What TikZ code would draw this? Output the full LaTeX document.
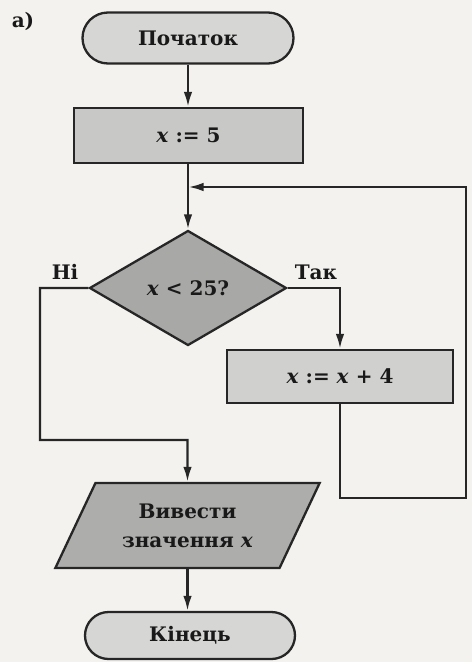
\documentclass[tikz,border=0pt]{standalone}
\usepackage{fontspec}
\setmainfont{DejaVu Serif}
\usetikzlibrary{arrows.meta,shapes.misc,shapes.geometric}
\definecolor{paper}{HTML}{F3F2EF}
\definecolor{termgray}{HTML}{D6D6D4}
\definecolor{boxgray}{HTML}{C8C8C7}
\definecolor{decgray}{HTML}{A8A8A7}
\definecolor{incgray}{HTML}{D0D0CF}
\definecolor{iogray}{HTML}{ADADAC}
\tikzset{
  every node/.style={font=\fontsize{20}{29}\selectfont\bfseries, text=black!90},
  outline/.style={draw=black!85, line width=2.3pt},
  term/.style={outline, rounded rectangle, fill=termgray, inner sep=0pt},
  procbox/.style={outline, rectangle, fill=boxgray, inner sep=0pt},
  decbox/.style={outline, diamond, fill=decgray, inner sep=0pt, minimum width=197pt, minimum height=115pt},
  iobox/.style={outline, trapezium, trapezium left angle=57, trapezium right angle=123,
     trapezium stretches=true, fill=iogray, inner sep=0pt, minimum width=265pt, minimum height=85pt, align=center},
  conn/.style={draw=black!85, line width=2.3pt, -{Latex[length=15pt,width=8.5pt]}},
  lbl/.style={font=\fontsize{20}{24}\selectfont\bfseries}
}
\begin{document}
\begin{tikzpicture}[x=1pt,y=-1pt]
\fill[paper] (0,0) rectangle (472,662);
\useasboundingbox (0,0) rectangle (472,662);
\node[lbl] (lab) at (23,21) {а)};
\node[term, minimum width=211pt, minimum height=51pt] (start) at (188,38) {Початок};
\node[procbox, minimum width=229pt, minimum height=55pt] (a5) at (188.5,135.5) {\textit{x} := 5};
\node[decbox] (dec) at (188,288) {\textit{x} < 25?};
\node[procbox, fill=incgray, minimum width=226pt, minimum height=53pt] (inc) at (340,376.5) {\textit{x} := \textit{x} + 4};
\node[iobox] (out) at (187.5,525.5) {Вивести\\значення \textit{x}};
\node[term, minimum width=210pt, minimum height=47pt] (fin) at (190,635.5) {Кінець};
\node[lbl] (no) at (65,272) {Ні};
\node[lbl] (yes) at (316,272) {Так};
\coordinate (join) at (188.5,187);
\draw[conn] (start.south) -- (a5.north -| start.south);
\draw[conn] (a5.south -| dec.north) -- (dec.north);
\draw[conn] (inc.south) -- (340,498) -- (466,498) -- (466,187) -- (join);
\draw[conn] (dec.west) -- (40,288) -- (40,440) -- (187.5,440) -- (out.north);
\draw[conn] (dec.east) -| (inc.north);
\draw[conn] (out.south) -- (fin.north -| out.south);
\end{tikzpicture}
\end{document}
